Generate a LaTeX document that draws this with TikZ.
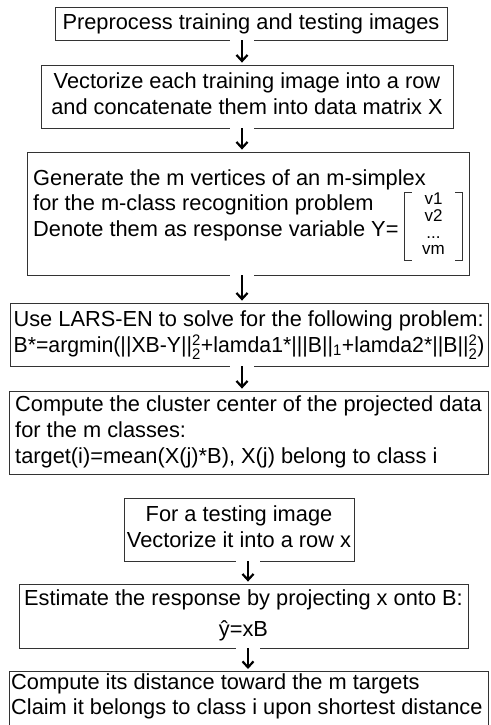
\documentclass[tikz,border=0pt]{standalone}
\usepackage{amsmath,graphicx}
\usepackage{fontspec}
\setmainfont{Liberation Sans}
\usetikzlibrary{arrows.meta}

\newcommand{\boxfont}{\fontsize{21.8}{25.7}\selectfont}
\newcommand{\supsub}[2]{\ensuremath{^{\text{#1}}_{\text{#2}}}}
\newcommand{\subonly}[1]{\ensuremath{_{\text{#1}}}}
\newcommand{\leftlines}[1]{\begin{tabular}{@{}l@{}}#1\end{tabular}}
\newcommand{\centerlines}[1]{\begin{tabular}{@{}c@{}}#1\end{tabular}}

\tikzset{
  procbox/.style={draw=black!80, line width=0.8pt, inner sep=0pt, font=\boxfont},
  boxtext/.style={inner sep=0pt, font=\boxfont},
  vecbox/.style={inner sep=0pt, font=\fontsize{17}{16.6}\selectfont},
  bracketline/.style={draw=black!80, line width=0.7pt},
  flowarrow/.style={-{Straight Barb[length=6pt,width=11pt,line width=2.2pt]}, line width=1.8pt, shorten >=2pt},
}

\begin{document}
\begin{tikzpicture}[x=1pt, y=-1pt]
  \useasboundingbox (0,0) rectangle (490,725);
  \clip (0,0) rectangle (490,725);
  \coordinate (trainaxis) at (242,0);
  \coordinate (testaxis) at (248,0);

  % training stage
  \node[procbox, minimum width=392pt, minimum height=33pt] (prep) at (251,23.5) {Preprocess training and testing images};
  \node[procbox, minimum width=412pt, minimum height=63pt] (vect) at (247,96.5) {\centerlines{Vectorize each training image into a row\\and concatenate them into data matrix X}};
  \node[procbox, minimum width=442pt, minimum height=123pt] (simplex) at (248,213.5) {};
  \node[boxtext, anchor=north west] (simplextext) at (33,167) {\leftlines{Generate the m vertices of an m-simplex\\for the m-class recognition problem\\Denote them as response variable Y=}};
  \node[vecbox, minimum width=57pt, minimum height=68pt] (ymat) at (433.5,226.5) {\centerlines{v1\\v2\\...\\vm}};
  \draw[bracketline] ([xshift=7pt]ymat.north west) -- (ymat.north west) -- (ymat.south west) -- ([xshift=7pt]ymat.south west);
  \draw[bracketline] ([xshift=-7pt]ymat.north east) -- (ymat.north east) -- (ymat.south east) -- ([xshift=-7pt]ymat.south east);
  \node[procbox, minimum width=478pt, minimum height=63pt] (larsen) at (249,334.5) {\leftlines{Use LARS-EN to solve for the following problem:\\\scalebox{0.975}[1]{B*=argmin(||XB-Y||\supsub{2}{2}+lamda1*|||B||\subonly{1}+lamda2*||B||\supsub{2}{2})}}};
  \node[procbox, minimum width=479pt, minimum height=83pt] (centers) at (248.5,432.5) {\leftlines{Compute the cluster center of the projected data\\for the m classes:\\target(i)=mean(X(j)*B), X(j) belong to class i}};

  % testing stage
  \node[procbox, minimum width=230pt, minimum height=63pt] (testimg) at (239,529.5) {\centerlines{For a testing image\\Vectorize it into a row x}};
  \node[procbox, minimum width=449pt, minimum height=64pt] (estimate) at (243.5,616) {\centerlines{Estimate the response by projecting x onto B:\\[6pt]ŷ=xB}};
  \node[procbox, minimum width=479pt, minimum height=80pt, anchor=north] (classify) at (248.5,671) {};
  \node[boxtext, anchor=north west] (classifytext) at (11,671) {\leftlines{Compute its distance toward the m targets\\Claim it belongs to class i upon shortest distance}};

  \foreach \from/\to/\ax in {prep/vect/trainaxis, vect/simplex/trainaxis, simplex/larsen/trainaxis, larsen/centers/trainaxis, testimg/estimate/testaxis, estimate/classify/testaxis}{
    \fill[white] (\from.south -| \ax) ++(-12,-1.2) rectangle ++(24,2.4);
    \draw[flowarrow] (\from.south -| \ax) -- (\to.north -| \ax);
  }
\end{tikzpicture}
\end{document}
